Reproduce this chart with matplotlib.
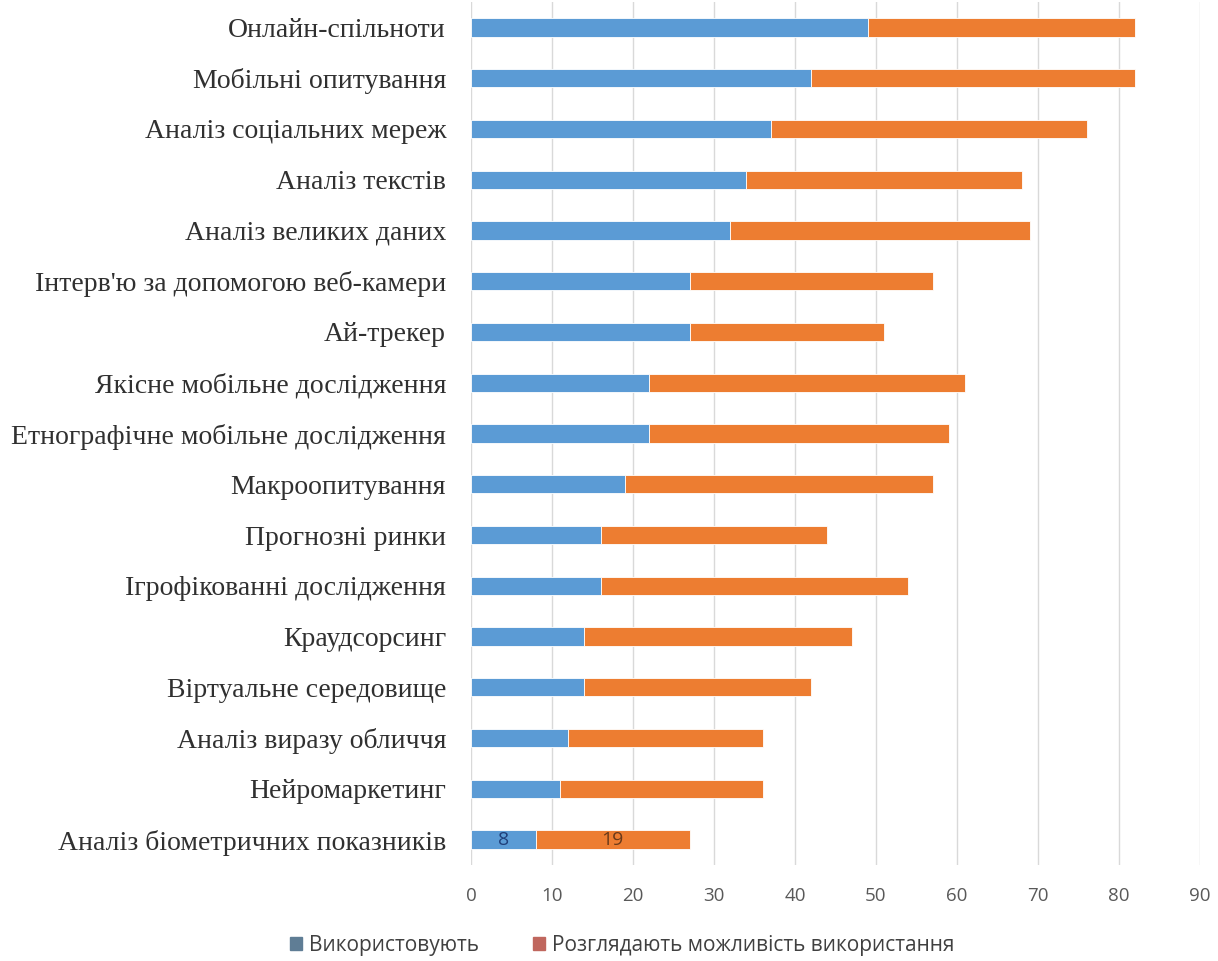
import numpy as np
import matplotlib.pyplot as plt
from matplotlib.patches import Patch

# categories top to bottom
categories = [
    "Онлайн-спільноти",
    "Мобільні опитування",
    "Аналіз соціальних мереж",
    "Аналіз текстів",
    "Аналіз великих даних",
    "Інтерв'ю за допомогою веб-камери",
    "Ай-трекер",
    "Якісне мобільне дослідження",
    "Етнографічне мобільне дослідження",
    "Макроопитування",
    "Прогнозні ринки",
    "Ігрофікованні дослідження",
    "Краудсорсинг",
    "Віртуальне середовище",
    "Аналіз виразу обличчя",
    "Нейромаркетинг",
    "Аналіз біометричних показників",
]
used = [49, 42, 37, 34, 32, 27, 27, 22, 22, 19, 16, 16, 14, 14, 12, 11, 8]
considering = [33, 40, 39, 34, 37, 30, 24, 39, 37, 38, 28, 38, 33, 28, 24, 25, 19]
legend_labels = ["Використовують", "Розглядають можливість використання"]

plt.rcParams['font.family'] = ['Liberation Serif', 'DejaVu Serif']
sans = ['Open Sans', 'DejaVu Sans']

fig = plt.figure(figsize=(12.18, 9.61), dpi=100)
ax = fig.add_axes([471/1218, 1 - 865/961, (1200 - 471)/1218, (865 - 2)/961])

y = np.arange(len(categories))
h = 0.36
ax.barh(y, used, height=h, color='#5B9BD5', edgecolor='white', linewidth=0.6, zorder=3)
ax.barh(y, considering, left=used, height=h, color='#ED7D31', edgecolor='white', linewidth=0.6, zorder=3)

# data labels on the last bar only
last = len(categories) - 1
ax.text(used[last] / 2, last, str(used[last]), ha='center', va='center',
        fontsize=14, color='#1F3F7A', family=sans, zorder=4)
ax.text(used[last] + considering[last] / 2, last, str(considering[last]), ha='center', va='center',
        fontsize=14, color='#6B3A1A', family=sans, zorder=4)

ax.set_xlim(0, 90)
ax.set_ylim(len(categories) - 0.5, -0.5)
ax.set_xticks(np.arange(0, 91, 10))
ax.set_yticks(y)
ax.set_yticklabels(categories, fontsize=20, color='#303030')
for lab in ax.get_xticklabels():
    lab.set_family(sans)
    lab.set_fontsize(13.5)
    lab.set_color('#595959')
ax.tick_params(axis='y', length=0, pad=18)
ax.tick_params(axis='x', length=0, pad=16)
ax.grid(axis='x', color='#D9D9D9', linewidth=1, zorder=0)
for s in ax.spines.values():
    s.set_visible(False)

handles = [Patch(color='#5F7D95'), Patch(color='#C0675E')]
fig.legend(handles, legend_labels, loc='center', bbox_to_anchor=(622/1218, 1 - 945/961),
           ncol=2, frameon=False, handlelength=0.6, handleheight=0.6, handletextpad=0.3,
           columnspacing=2.6, prop={'family': sans, 'size': 15},
           labelcolor='#404040')

fig.savefig("out.png", dpi=100)
